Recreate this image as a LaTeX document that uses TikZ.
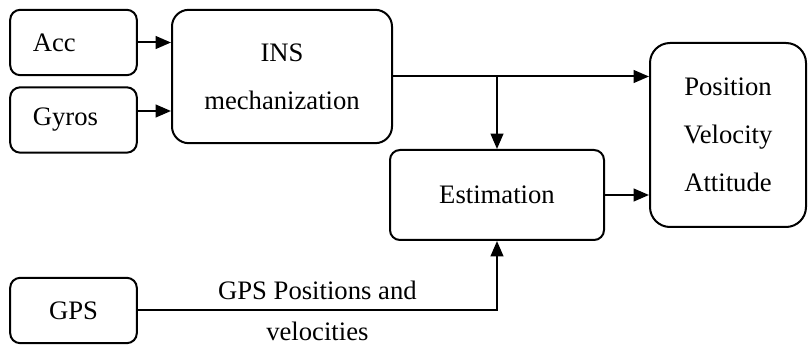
\documentclass[tikz,border=0pt]{standalone}
\usepackage{fontspec}
\setmainfont{Liberation Serif}
\usetikzlibrary{arrows.meta}

\begin{document}
\begin{tikzpicture}[x=0.75pt,y=-0.75pt,line width=1.5pt,
  font=\fontsize{20}{36}\selectfont,
  >={Triangle[length=11.5pt,width=9.5pt]},
  sensor/.style={draw,rounded corners=7.5pt,minimum width=95pt,minimum height=49pt,inner xsep=0pt,text width=61pt,align=left},
  block/.style={draw,align=center}]
\useasboundingbox (0,0) rectangle (808,345);

\node [sensor] (acc) at (73.5,42.5) {Acc};
\node [sensor] (gyros) at (73.5,120) {Gyros};
\node [sensor,align=center] (gps) at (73.5,310.5) {GPS};
\node [block,rounded corners=12.5pt,minimum width=165pt,minimum height=100pt] (ins) at (282,76.5) {INS\\mechanization};
\node [block,rounded corners=7.5pt,minimum width=160.5pt,minimum height=67.5pt] (est) at (497,195) {Estimation};
\node [block,rounded corners=15pt,minimum width=117pt,minimum height=138pt] (pva) at (728,135) {Position\\Velocity\\Attitude};

\coordinate (gy) at ([yshift=6.75pt]gyros.east);
\draw [->] (acc.east) -- (acc.east -| ins.west);
\draw [->] (gy) -- (gy -| ins.west);
\draw [->] (ins.east) -- (ins.east -| pva.west);
\draw [->] (est.north |- ins.east) -- (est.north);
\draw [->] (est.east) -- (est.east -| pva.west);
\draw [->] (gps.east) -| (est.south)
  node [pos=0.25,above=4pt] {GPS Positions and}
  node [pos=0.25,below=4.5pt] {velocities};

\end{tikzpicture}
\end{document}
